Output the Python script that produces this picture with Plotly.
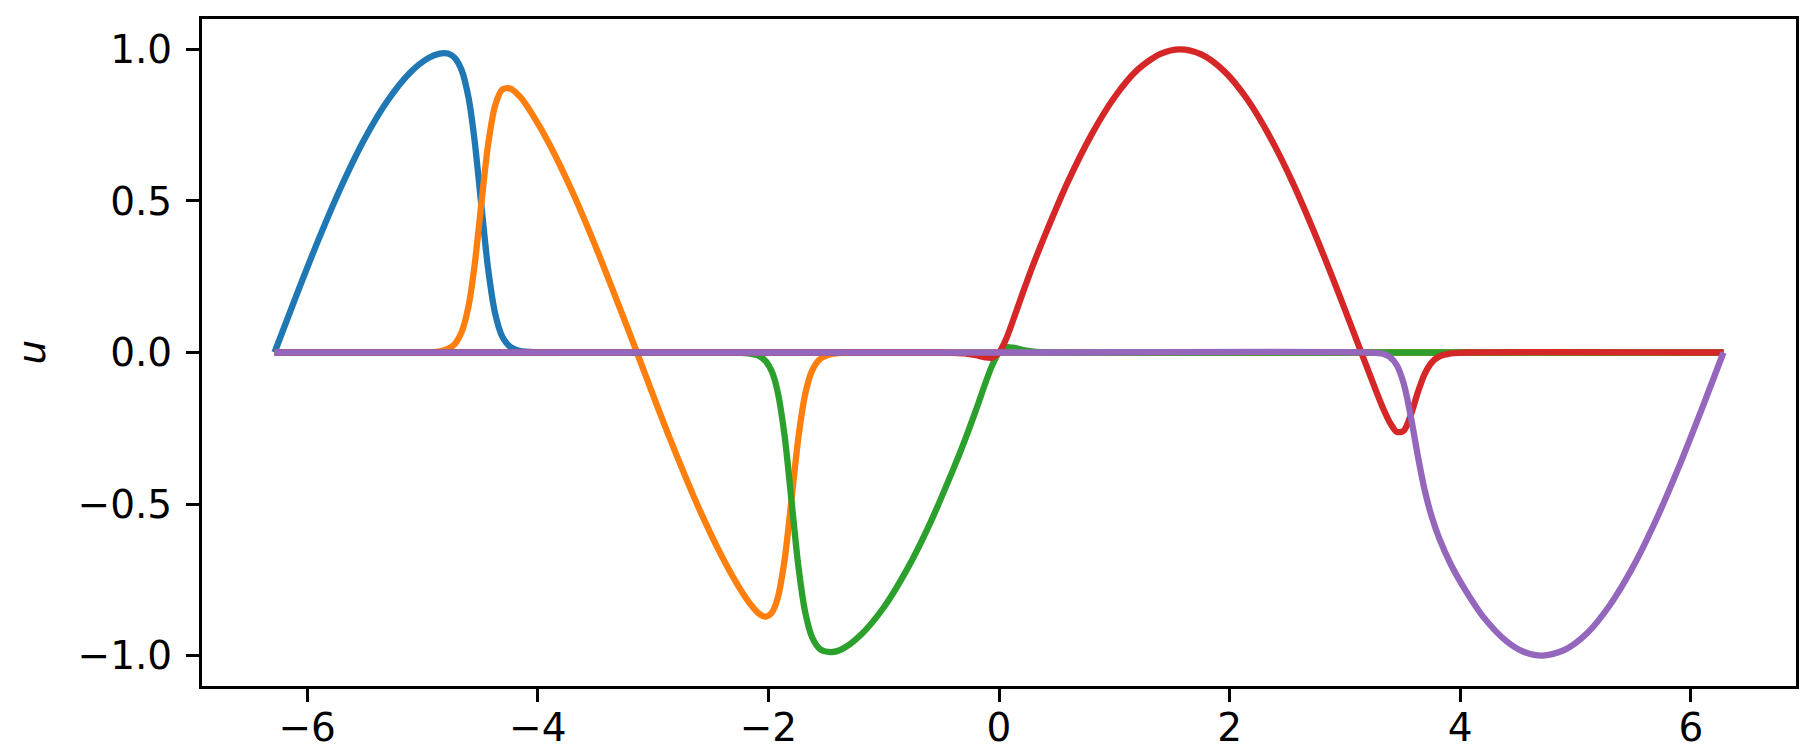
import plotly.graph_objects as go

# five pieces of the solution
x_blue = [-6.283, -6.1, -5.9, -5.7, -5.5, -5.3, -5.1, -4.95, -4.85, -4.78, -4.72, -4.66,
          -4.60, -4.55, -4.49, -4.43, -4.37, -4.31, -4.24, -4.15, -4.0, -3.8, 0.0, 6.283]
u_blue = [0.0, 0.182, 0.374, 0.551, 0.706, 0.832, 0.926, 0.971, 0.986, 0.986, 0.972, 0.931,
          0.84, 0.706, 0.488, 0.274, 0.129, 0.054, 0.019, 0.005, 0.001, 0.0, 0.0, 0.0]

x_orange = [-6.283, -5.1, -4.95, -4.85, -4.78, -4.72, -4.66, -4.60, -4.55, -4.49, -4.43, -4.37,
            -4.31, -4.24, -4.15, -4.05, -3.9, -3.7, -3.5, -3.3, -3.14, -2.95, -2.8, -2.6,
            -2.4, -2.25, -2.15, -2.08, -2.02, -1.97, -1.92, -1.86, -1.80, -1.74, -1.68,
            -1.62, -1.55, -1.45, -1.3, -1.1, 2.0, 6.283]
u_orange = [0.0, 0.0, 0.001, 0.004, 0.012, 0.028, 0.068, 0.154, 0.281, 0.488, 0.688, 0.814,
            0.867, 0.871, 0.842, 0.787, 0.688, 0.530, 0.351, 0.158, 0.0, -0.191, -0.335, -0.516,
            -0.675, -0.777, -0.833, -0.862, -0.871, -0.858, -0.811, -0.685, -0.487, -0.281,
            -0.136, -0.059, -0.021, -0.005, 0.0, 0.0, 0.0, 0.0]

x_green = [-6.283, -2.4, -2.2, -2.08, -2.02, -1.97, -1.92, -1.86, -1.80, -1.74, -1.68, -1.62,
           -1.55, -1.45, -1.35, -1.2, -1.0, -0.8, -0.6, -0.4, -0.3, -0.2, -0.12, -0.06, 0.0,
           0.06, 0.12, 0.2, 0.3, 0.45, 0.6, 3.5, 6.283]
u_green = [0.0, 0.0, -0.002, -0.011, -0.030, -0.063, -0.129, -0.273, -0.487, -0.705, -0.858,
           -0.940, -0.979, -0.988, -0.976, -0.932, -0.841, -0.717, -0.565, -0.388, -0.293,
           -0.190, -0.103, -0.043, 0.0, 0.017, 0.016, 0.009, 0.003, 0.0, 0.0, 0.0, 0.0]

x_red = [-6.283, -0.5, -0.4, -0.3, -0.2, -0.12, -0.06, 0.0, 0.06, 0.12, 0.2, 0.3, 0.4, 0.6,
         0.8, 1.0, 1.2, 1.4, 1.571, 1.75, 1.95, 2.15, 2.35, 2.55, 2.75, 2.95, 3.14, 3.25,
         3.33, 3.39, 3.45, 3.51, 3.57, 3.63, 3.69, 3.75, 3.82, 3.92, 4.05, 6.283]
u_red = [0.0, 0.0, -0.001, -0.003, -0.009, -0.016, -0.017, 0.0, 0.043, 0.104, 0.190, 0.293,
         0.388, 0.565, 0.717, 0.841, 0.932, 0.985, 1.0, 0.984, 0.929, 0.837, 0.711, 0.558,
         0.382, 0.191, 0.002, -0.107, -0.183, -0.231, -0.262, -0.258, -0.208, -0.134, -0.072,
         -0.034, -0.013, -0.003, 0.0, 0.0]

x_purple = [-6.283, -3.0, 0.0, 3.2, 3.33, 3.39, 3.45, 3.51, 3.57, 3.63, 3.69, 3.75, 3.82, 3.92,
            4.05, 4.2, 4.4, 4.55, 4.712, 4.9, 5.1, 5.3, 5.5, 5.7, 5.9, 6.1, 6.283]
u_purple = [0.0, 0.0, 0.0, 0.0, -0.004, -0.015, -0.042, -0.103, -0.208, -0.336, -0.451, -0.538,
            -0.615, -0.700, -0.787, -0.872, -0.952, -0.987, -1.0, -0.982, -0.926, -0.832,
            -0.706, -0.551, -0.374, -0.182, 0.0]

x_ticks = [-6, -4, -2, 0, 2, 4, 6]
x_tick_text = ['\u22126', '\u22124', '\u22122', '0', '2', '4', '6']
y_ticks = [-1.0, -0.5, 0.0, 0.5, 1.0]
y_tick_text = ['\u22121.0', '\u22120.5', '0.0', '0.5', '1.0']

series = [
    (x_blue, u_blue, '#1f77b4'),
    (x_orange, u_orange, '#ff7f0e'),
    (x_green, u_green, '#2ca02c'),
    (x_red, u_red, '#d62728'),
    (x_purple, u_purple, '#9467bd'),
]

fig = go.Figure()
for xs, us, col in series:
    fig.add_trace(go.Scatter(x=xs, y=us, mode='lines',
                             line=dict(color=col, width=6.3, shape='spline', smoothing=0.8),
                             showlegend=False))

tick_font = dict(family='DejaVu Sans', size=39, color='black')
axis_style = dict(showline=True, mirror=True, linecolor='black', linewidth=3,
                  ticks='outside', ticklen=13, tickwidth=3, tickcolor='black',
                  showgrid=False, zeroline=False, automargin=False, tickfont=tick_font)

fig.update_xaxes(range=[-6.912, 6.912], tickvals=x_ticks, ticktext=x_tick_text,
                 ticklabelstandoff=-8, **axis_style)
fig.update_yaxes(range=[-1.1, 1.1], tickvals=y_ticks, ticktext=y_tick_text,
                 ticklabelstandoff=6, **axis_style)

# y label placed by pixels, like the reference
fig.add_annotation(text='<i>u</i>', xref='paper', yref='paper', x=0, y=0.5,
                   xanchor='center', yanchor='middle', xshift=-171, textangle=-90,
                   showarrow=False, font=tick_font)

# thin grey edge at the very bottom of the reference image
fig.add_shape(type='line', xref='paper', yref='paper', x0=-0.13, x1=1.03,
              y0=-0.109, y1=-0.109, line=dict(color='#d4d4d4', width=2))

fig.update_layout(width=1820, height=751,
                  margin=dict(l=194, r=32, t=11, b=73),
                  plot_bgcolor='white', paper_bgcolor='white')

fig.write_html('out.html')
